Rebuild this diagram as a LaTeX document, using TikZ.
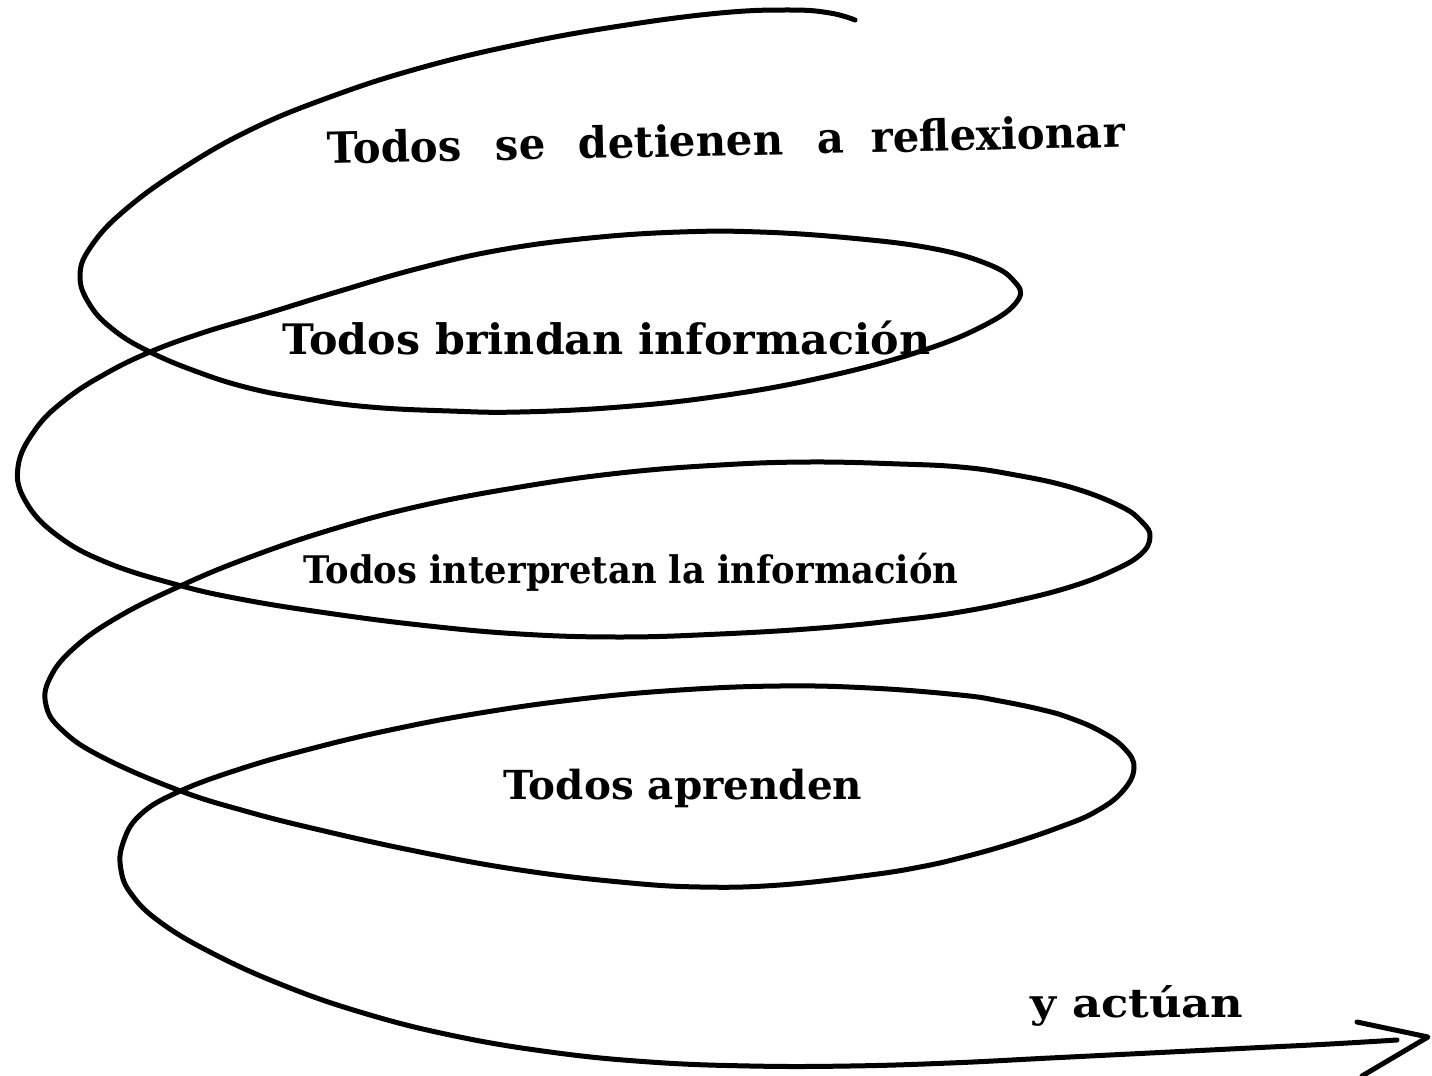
\documentclass[tikz,border=0pt]{standalone}
\usepackage{graphicx}
\usepackage{fontspec}
\setmainfont{DejaVu Serif}
\newcommand{\fitw}[2]{\resizebox{#1}{\height}{#2}}
\begin{document}
\begin{tikzpicture}[x=0.5pt,y=-0.5pt,
  spiral/.style={line width=2.5pt,line cap=round,line join=round},
  lbl/.style={inner sep=0pt,anchor=base west}]
\useasboundingbox (0,0) rectangle (1432,1076);
\draw[spiral] plot[smooth,tension=0.7] coordinates {
(855,20) (830,13) (790,10) (720,13) (620,26) (520,44) (420,68) (330,97) (250,130)
(180,170) (125,210) (92,245) (80,275) (90,305) (115,331) (150,352) (195,371)
(245,387) (300,398) (370,407) (450,411) (520,412) (620,407) (720,396) (820,378) (915,353)
(983,326) (1018,300) (1013,280) (985,263) (930,248) (850,238) (760,232) (680,232)
(590,238) (500,250) (420,268) (340,291) (262,315) (202,333) (150,352) (105,374)
(65,400) (35,430) (18,467) (26,502) (58,536) (108,563) (178,585) (240,599)
(320,612) (420,625) (520,634) (620,637) (720,634) (820,628) (900,620) (960,612)
(1020,600) (1070,587) (1110,572) (1140,555) (1150,537) (1142,522) (1120,506)
(1070,487) (1010,474) (960,467) (900,464) (810,462) (720,465) (620,473) (520,487)
(420,506) (330,530) (245,559) (178,587) (118,617) (74,648) (50,678) (46,705)
(62,730) (102,757) (178,790) (245,811) (320,830) (420,852) (520,870) (620,882)
(700,887) (780,885) (870,875) (920,867) (960,858) (1010,844) (1060,827)
(1095,812) (1122,792) (1134,768) (1124,748) (1100,731) (1070,718) (1043,710)
(1000,701) (960,695) (870,688) (780,686) (680,690) (580,699) (480,713) (390,730)
(310,749) (240,769) (178,792) (140,815) (123,843) (121,870) (132,895) (160,922)
(210,952) (280,984) (360,1012) (450,1035) (550,1052) (650,1062) (750,1066)
(850,1066) (950,1063) (1050,1058) (1150,1053) (1250,1048) (1330,1044) (1397,1040)};
\coordinate (tipA) at (1357,1022);
\coordinate (tip) at (1428,1037);
\coordinate (tipB) at (1362,1076);
\draw[spiral] (tipA) -- (tip) -- (tipB);
\node[lbl,rotate=1.2,font=\fontsize{21.5}{26}\bfseries\selectfont] (t1) at (327,164)
  {\fitw{399pt}{Todos\hspace{0.45em} se\hspace{0.45em} detienen\hspace{0.45em} a\hspace{0.3em} reflexionar}};
\node[lbl,font=\fontsize{21}{25}\bfseries\selectfont] (t2) at (282,354)
  {\fitw{324pt}{Todos brindan información}};
\node[lbl,font=\fontsize{19}{23}\bfseries\selectfont] (t3) at (303,583)
  {\fitw{327.5pt}{Todos interpretan la información}};
\node[lbl,font=\fontsize{20}{24}\bfseries\selectfont] (t4) at (503,799)
  {\fitw{179.5pt}{Todos aprenden}};
\node[lbl,font=\fontsize{20}{24}\bfseries\selectfont] (t5) at (1030,1017)
  {\fitw{106.5pt}{y actúan}};
\end{tikzpicture}
\end{document}
